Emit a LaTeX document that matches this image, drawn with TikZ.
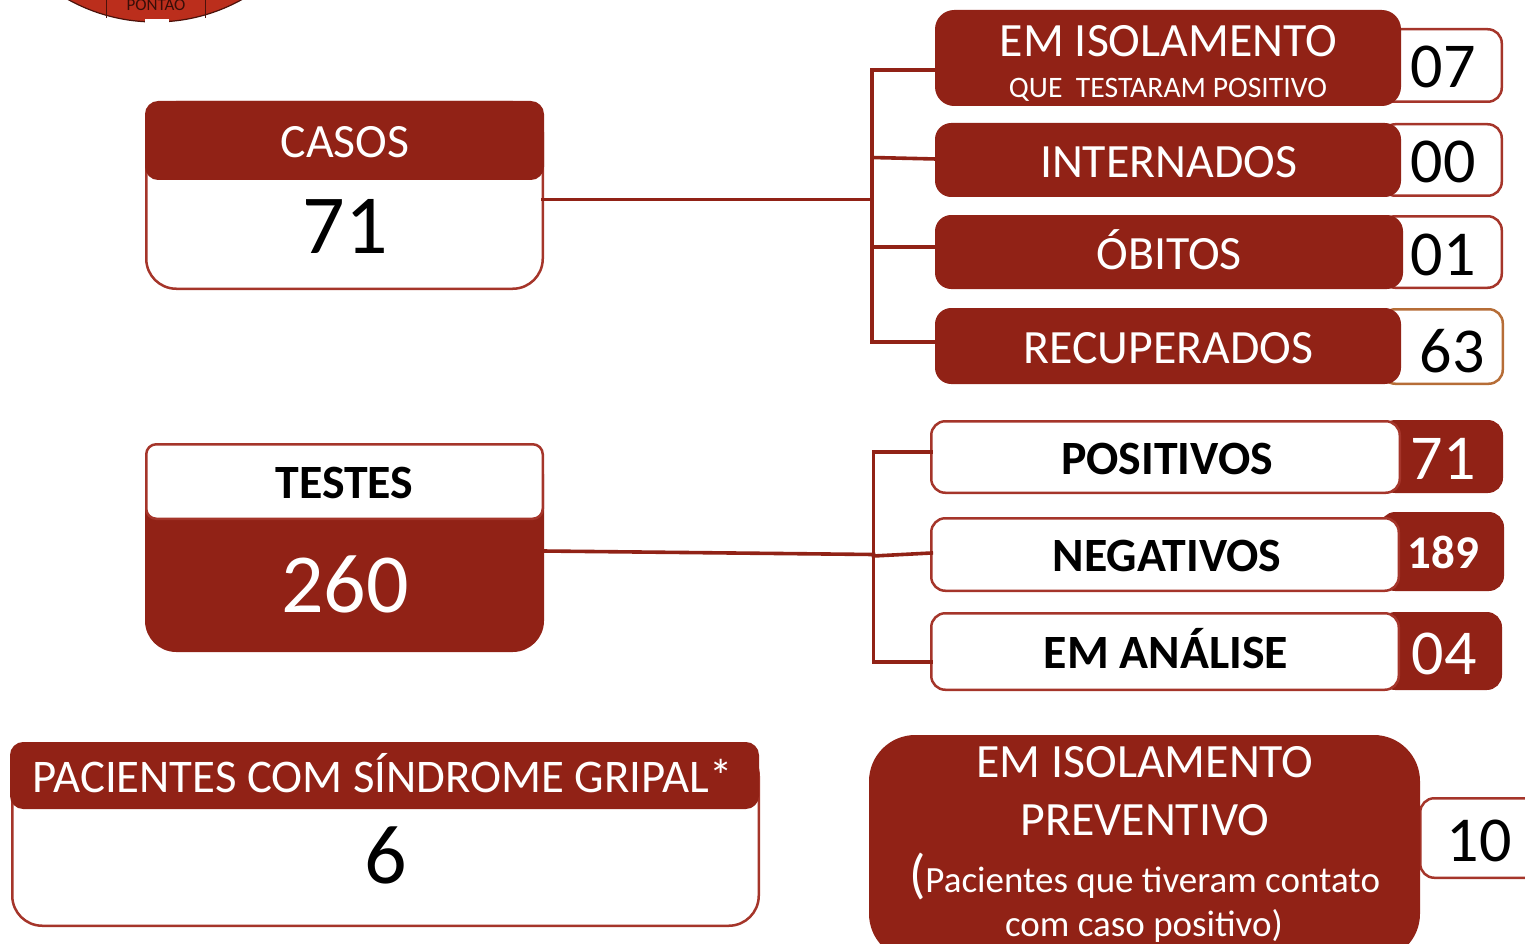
\documentclass[tikz,border=0pt]{standalone}
\usepackage{fontspec}
\setmainfont{Carlito}
\definecolor{dk}{HTML}{912216}
\definecolor{bd}{HTML}{A5352A}
\definecolor{lg}{HTML}{BB2E1C}
\tikzset{
 x=1pt,y=-1pt,
 box/.style={rectangle,inner sep=0pt,outer sep=0pt,line width=2.5pt},
 wbox/.style={box,draw=bd,fill=white,text=black},
 dbox/.style={box,draw=dk,fill=dk,text=white},
 link/.style={draw=dk,line width=3.6pt,line cap=rect},
 txt/.style={inner sep=0pt,outer sep=0pt,anchor=base,align=center},
}
% name, x0, y0, x1, y1, radius, style
\newcommand{\bx}[7]{\node[#7,rounded corners=#6pt,minimum width=#4pt-#2pt-2.5pt,minimum height=#5pt-#3pt-2.5pt] (#1) at ({(#2+#4)/2},{(#3+#5)/2}) {};}
\newcommand{\tx}[5][white]{\node[txt,text=#1,font=\fontsize{#5pt}{#5pt}\selectfont] at (#2,#3) {#4};}
\begin{document}
\begin{tikzpicture}
\useasboundingbox (0,0) rectangle (1525,944);
% logo
\begin{scope}
\clip (0,0) rectangle (1525,944);
\fill[lg,draw=black!60!lg,line width=1.2pt] (155,-157) circle (179);
\draw[black!60!lg,line width=.8pt] (106,0) -- (106,18) (205,0) -- (205,18);
\fill[white] (145,19) rectangle (169,24);
\node[txt,text=black!70!lg,font=\fontsize{17pt}{17pt}\selectfont] at (156,11) {PONTÃO};
% value boxes
\bx{v1}{1380}{28}{1503}{103}{14}{wbox}
\bx{v2}{1380}{123}{1503}{197}{14}{wbox}
\bx{v3}{1380}{215}{1503}{289}{14}{wbox}
\bx{v4}{1380}{308}{1504}{385}{14}{wbox,draw=brown!80!dk}
\bx{v5}{1380}{420}{1503}{493}{14}{dbox}
\bx{v6}{1380}{512}{1504}{591}{14}{dbox}
\bx{v7}{1380}{612}{1502}{690}{14}{dbox}
\bx{v8}{1419}{797}{1570}{879}{14}{wbox}
% label boxes
\bx{l1}{935}{10}{1401}{106}{18}{dbox}
\bx{l2}{935}{123}{1401}{197}{15}{dbox}
\bx{l3}{935}{215}{1403}{289}{15}{dbox}
\bx{l4}{935}{308}{1401}{384}{15}{dbox}
\bx{l5}{930}{420}{1401}{494}{14}{wbox}
\bx{l6}{930}{517}{1400}{592}{14}{wbox}
\bx{l7}{930}{612}{1400}{691}{14}{wbox}
\bx{iso}{869}{735}{1420}{960}{45}{dbox}
% left boxes
\bx{casos}{145}{101}{544}{290}{30}{wbox}
\bx{casosh}{145}{101}{544}{180}{12}{dbox}
\bx{testes}{145}{443}{544}{652}{30}{dbox}
\bx{testesh}{145}{443}{544}{520}{10}{wbox}
\bx{sg}{11}{745}{760}{927}{30}{wbox}
\bx{sgh}{10}{742}{759}{809}{12}{dbox}
\end{scope}
% connector hubs
\coordinate (hubA) at (872,199.5);
\coordinate (hubAt) at (872,70);
\coordinate (hubAb) at (872,342);
\coordinate (hubB) at (873.5,554.5);
\coordinate (hubBt) at (873.5,452);
\coordinate (hubBb) at (873.5,662);
\coordinate (hubA2) at (872,157.5);
\coordinate (hubA3) at (872,247);
\coordinate (hubB2) at (873.5,556);
% connectors
\draw[link] (casos.east |- hubA) -- (hubA);
\draw[link] (hubAt) -- (hubAb);
\draw[link] (hubAt) -- (l1.west |- hubAt);
\draw[link] (hubA2) -- ([yshift=1pt]l2.west);
\draw[link] (hubA3) -- (l3.west |- hubA3);
\draw[link] (hubAb) -- (l4.west |- hubAb);
\draw[link] ([yshift=-3.5pt]testes.east) -- (hubB);
\draw[link] (hubBt) -- (hubBb);
\draw[link] (hubBt) -- (l5.west |- hubBt);
\draw[link] (hubB2) -- ([yshift=1.5pt]l6.west);
\draw[link] (hubBb) -- (l7.west |- hubBb);
% texts
\tx{1168.5}{57}{EM ISOLAMENTO}{47.8}
\tx{1168}{97.5}{QUE\ \ TESTARAM POSITIVO}{29.7}
\tx{1168.5}{178}{INTERNADOS}{47.8}
\tx{1169}{269.5}{ÓBITOS}{47.8}
\tx{1168.5}{363.5}{RECUPERADOS}{47.8}
\tx[black]{1443}{88}{07}{64}
\tx[black]{1443}{183}{00}{64}
\tx[black]{1443}{275}{01}{64}
\tx[black]{1452}{372}{63}{64}
\tx[black]{1167}{474}{\bfseries POSITIVOS}{47.8}
\tx[black]{1167}{571}{\bfseries NEGATIVOS}{47.8}
\tx[black]{1166}{668}{\bfseries EM ANÁLISE}{47.8}
\tx{1443}{479}{71}{64}
\tx{1443.5}{568.5}{\bfseries 189}{47}
\tx{1444}{674}{04}{64}
\tx{345}{158}{CASOS}{47.8}
\tx[black]{345}{253}{71}{84}
\tx[black]{344.5}{498}{\bfseries TESTES}{47.8}
\tx{345}{612.5}{260}{84}
\tx{382.5}{792}{PACIENTES COM SÍNDROME GRIPAL*}{46.8}
\tx[black]{386}{883.5}{6}{84}
\tx{1145}{777}{EM ISOLAMENTO}{47.8}
\tx{1145}{835}{PREVENTIVO}{47.8}
\tx{1144.5}{892}{{\fontsize{54pt}{54pt}\selectfont (}Pacientes que tiveram contato}{37}
\tx{1144}{936.5}{com caso positivo)}{37}
\tx[black]{1479}{861}{10}{64}
\end{tikzpicture}
\end{document}
